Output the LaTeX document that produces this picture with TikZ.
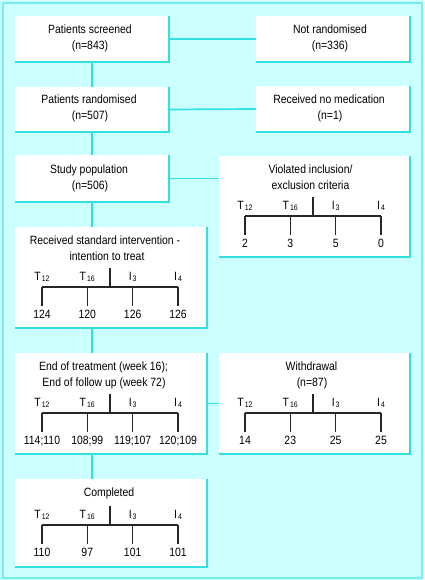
\documentclass[tikz,border=0pt]{standalone}
\usepackage{fontspec}
\setmainfont{Liberation Sans}[FakeStretch=0.87]
\definecolor{bgcyan}{RGB}{204,255,255}
\definecolor{linecyan}{RGB}{51,224,224}
\definecolor{framecyan}{RGB}{120,236,236}
\tikzset{
  box/.style={rectangle, fill=white, draw=none, inner sep=0pt, outer sep=0pt},
  conn/.style={draw=linecyan, line width=1.7pt},
  shadowline/.style={draw=linecyan, line width=1.8pt},
  txt/.style={anchor=base, inner sep=0pt, font=\fontsize{12}{16}\selectfont},
  tree/.style={draw=black!85, line width=1.1pt},
}
\newcommand\tsub[2]{#1\kern1pt\raisebox{-1.7pt}{\fontsize{8}{8}\selectfont #2}}
% #1 name prefix, #2 centre x, #3 line y, #4..#7 numbers
\newcommand\armtree[7]{%
  \begin{scope}[shift={(#2,#3)}]
    \coordinate (#1) at (0,0);
    \draw[tree] (-68,0) -- (68,0);
    \draw[tree] (0,-19) -- (0,0);
    \draw[tree] (-68,0) -- (-68,19);
    \draw[tree] (-22.7,0) -- (-22.7,19);
    \draw[tree] (22.7,0) -- (22.7,19);
    \draw[tree] (68,0) -- (68,19);
    \node[txt] (#1la) at (-68,-7) {\tsub{T}{12}};
    \node[txt] (#1lb) at (-22.7,-7) {\tsub{T}{16}};
    \node[txt] (#1lc) at (22.7,-7) {\tsub{I}{3}};
    \node[txt] (#1ld) at (68,-7) {\tsub{I}{4}};
    \node[txt] (#1na) at (-68,31) {#4};
    \node[txt] (#1nb) at (-22.7,31) {#5};
    \node[txt] (#1nc) at (22.7,31) {#6};
    \node[txt] (#1nd) at (68,31) {#7};
  \end{scope}}
\begin{document}
\begin{tikzpicture}[x=1pt,y=-1pt]
\useasboundingbox (0,0) rectangle (424,580);
\fill[bgcyan] (0,0) rectangle (424,580);
\draw[framecyan, line width=2pt] (3,3) rectangle (422,578);

% boxes
\node[box, minimum width=154pt, minimum height=46pt] (b1) at (92,39) {};
\node[box, minimum width=154pt, minimum height=46pt] (n1) at (333,39) {};
\node[box, minimum width=154pt, minimum height=45pt] (b2) at (92,109.5) {};
\node[box, minimum width=154pt, minimum height=46pt] (n2) at (333,109) {};
\node[box, minimum width=154pt, minimum height=47pt] (b3) at (92,178.5) {};
\node[box, minimum width=191pt, minimum height=101pt] (v) at (314.5,206.5) {};
\node[box, minimum width=192pt, minimum height=101pt] (b4) at (111,277.5) {};
\node[box, minimum width=192pt, minimum height=101pt] (b5) at (111,403.5) {};
\node[box, minimum width=191pt, minimum height=101pt] (w) at (314.5,403.5) {};
\node[box, minimum width=192pt, minimum height=88pt] (b6) at (111,523) {};

% shadows
\foreach \b in {b1,n1,b2,n2,b3,v,b4,b5,w,b6}
  \draw[shadowline] (\b.north east) -- (\b.south east) -- (\b.south west);

% connectors
\draw[conn] (b1.east) -- (n1.west);
\draw[conn] (b2.east) -- (n2.west);
\draw[conn] (b3.east) -- (b3.east -| v.west);
\draw[conn] (b5.east) -- (w.west);
\draw[conn] (b1.south) -- (b2.north);
\draw[conn] (b2.south) -- (b3.north);
\draw[conn] (b3.south) -- (b3.south |- b4.north);
\draw[conn] (b4.south -| b3.south) -- (b5.north -| b3.south);
\draw[conn] (b5.south -| b3.south) -- (b6.north -| b3.south);

% texts
\node[txt] (t1a) at (90,34) {Patients screened};
\node[txt] (t1b) at (90,50) {(n=843)};
\node[txt] (u1a) at (330,34) {Not randomised};
\node[txt] (u1b) at (330,50) {(n=336)};
\node[txt] (t2a) at (89,104) {Patients randomised};
\node[txt] (t2b) at (90,120) {(n=507)};
\node[txt] (u2a) at (329,104) {Received no medication};
\node[txt] (u2b) at (330,120) {(n=1)};
\node[txt] (t3a) at (89,173) {Study population};
\node[txt] (t3b) at (90,189) {(n=506)};
\node[txt] (vta) at (310.5,173) {Violated inclusion/};
\node[txt] (vtb) at (310.5,189) {exclusion criteria};
\node[txt] (t4a) at (105,244) {Received standard intervention -};
\node[txt] (t4b) at (107,260) {intention to treat};
\node[txt] (t5a) at (103.5,370) {End of treatment (week 16);};
\node[txt] (t5b) at (104,386) {End of follow up (week 72)};
\node[txt] (wta) at (311.5,370) {Withdrawal};
\node[txt] (wtb) at (312,386) {(n=87)};
\node[txt] (t6a) at (109,496) {Completed};

% trees
\armtree{tv}{313}{216}{2}{3}{5}{0}
\armtree{tr}{110}{287}{124}{120}{126}{126}
\armtree{te}{110}{413}{114;110}{108;99}{119;107}{120;109}
\armtree{tw}{313}{413}{14}{23}{25}{25}
\armtree{tc}{110}{525}{110}{97}{101}{101}
\end{tikzpicture}
\end{document}
